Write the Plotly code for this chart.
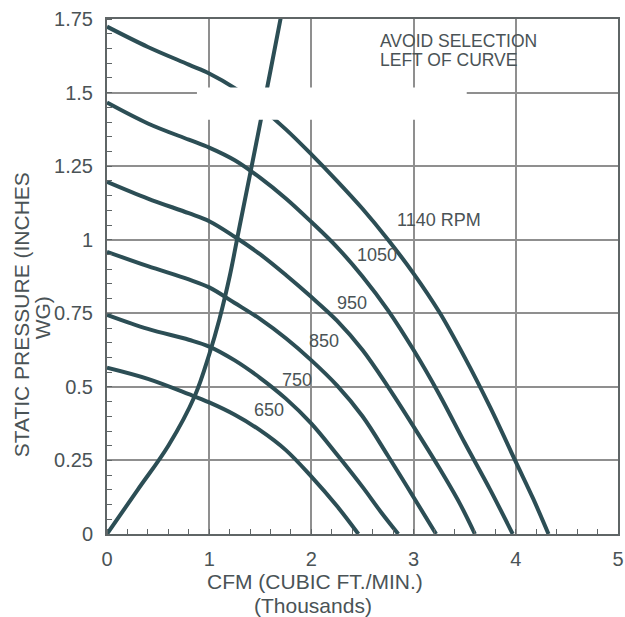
import plotly.graph_objects as go

# ---- data ----
rpm_labels = ["1140 RPM", "1050", "950", "850", "750", "650"]

cfm_1140 = [0, 0.4, 0.8, 1.0, 1.25, 1.5, 1.75, 2.0, 2.25, 2.5, 2.75, 3.0, 3.25, 3.5, 3.75, 4.0, 4.17, 4.32]
sp_1140 = [1.724, 1.655, 1.595, 1.565, 1.515, 1.45, 1.375, 1.29, 1.2, 1.105, 1.0, 0.885, 0.755, 0.6, 0.43, 0.245, 0.12, 0]

cfm_1050 = [0, 0.4, 0.8, 1.0, 1.25, 1.5, 1.75, 2.0, 2.25, 2.5, 2.75, 3.0, 3.25, 3.5, 3.75, 3.97]
sp_1050 = [1.466, 1.395, 1.34, 1.313, 1.27, 1.21, 1.14, 1.06, 0.975, 0.875, 0.76, 0.625, 0.475, 0.31, 0.15, 0]

cfm_950 = [0, 0.4, 0.8, 1.0, 1.25, 1.5, 1.75, 2.0, 2.25, 2.5, 2.75, 3.0, 3.25, 3.45, 3.60]
sp_950 = [1.197, 1.14, 1.09, 1.063, 1.01, 0.95, 0.88, 0.805, 0.725, 0.625, 0.5, 0.365, 0.225, 0.105, 0]

cfm_850 = [0, 0.4, 0.8, 1.0, 1.25, 1.5, 1.75, 2.0, 2.25, 2.5, 2.75, 3.0, 3.22]
sp_850 = [0.959, 0.91, 0.865, 0.838, 0.785, 0.73, 0.665, 0.59, 0.505, 0.4, 0.265, 0.125, 0]

cfm_750 = [0, 0.4, 0.8, 1.0, 1.25, 1.5, 1.75, 2.0, 2.25, 2.5, 2.68, 2.85]
sp_750 = [0.745, 0.697, 0.66, 0.637, 0.59, 0.53, 0.46, 0.375, 0.27, 0.16, 0.075, 0]

cfm_650 = [0, 0.4, 0.8, 1.0, 1.25, 1.5, 1.75, 2.0, 2.25, 2.46]
sp_650 = [0.565, 0.527, 0.475, 0.447, 0.405, 0.352, 0.285, 0.195, 0.095, 0]

sys_cfm = [0, 0.3, 0.6, 0.86, 1.0, 1.1, 1.2, 1.3, 1.45, 1.6, 1.72]
sys_sp = [0, 0.15, 0.3, 0.47, 0.61, 0.73, 0.875, 1.05, 1.31, 1.575, 1.79]

x_ticks = [0, 1, 2, 3, 4, 5]
y_ticks = [0, 0.25, 0.5, 0.75, 1, 1.25, 1.5, 1.75]
y_ticktext = ["0", "0.25", "0.5", "0.75", "1", "1.25", "1.5", "1.75"]

# label anchor positions (data units) for the rpm labels
label_x = [2.82, 2.43, 2.23, 1.96, 1.69, 1.42]
label_y = [1.068, 0.949, 0.786, 0.656, 0.524, 0.422]

# ---- styling ----
LINE = "#2c4e55"
TEXT = "#4a5356"
GRID = "#8f8f8f"
AXIS = "#5f6566"
FONT = "Liberation Sans, Arial, Helvetica, sans-serif"

fig = go.Figure()
curves = [(cfm_1140, sp_1140), (cfm_1050, sp_1050), (cfm_950, sp_950),
          (cfm_850, sp_850), (cfm_750, sp_750), (cfm_650, sp_650),
          (sys_cfm, sys_sp)]
for cx, cy in curves:
    fig.add_trace(go.Scatter(x=cx, y=cy, mode="lines",
                             line=dict(color=LINE, width=4, shape="spline", smoothing=1.0),
                             hoverinfo="skip", showlegend=False))

# white patch present in the reference
fig.add_shape(type="rect", xref="x", yref="y", x0=0.88, x1=3.52, y0=1.408, y1=1.517,
              fillcolor="white", line=dict(width=0), layer="above")

for t, lx, ly in zip(rpm_labels, label_x, label_y):
    fig.add_annotation(x=lx, y=ly, xref="x", yref="y", text=t, showarrow=False,
                       xanchor="left", yanchor="middle",
                       font=dict(family=FONT, size=18, color=TEXT))

fig.add_annotation(x=0.530, y=0.957, xref="paper", yref="paper", text="AVOID SELECTION",
                   showarrow=False, xanchor="left", yanchor="middle",
                   font=dict(family=FONT, size=17.5, color=TEXT))
fig.add_annotation(x=0.530, y=0.920, xref="paper", yref="paper", text="LEFT OF CURVE",
                   showarrow=False, xanchor="left", yanchor="middle",
                   font=dict(family=FONT, size=17.5, color=TEXT))

# axis titles
fig.add_annotation(x=0.407, y=-0.0932, xref="paper", yref="paper", text="CFM (CUBIC FT./MIN.)",
                   showarrow=False, xanchor="center", yanchor="middle",
                   font=dict(family=FONT, size=21, color=TEXT))
fig.add_annotation(x=0.403, y=-0.139, xref="paper", yref="paper", text="(Thousands)",
                   showarrow=False, xanchor="center", yanchor="middle",
                   font=dict(family=FONT, size=21, color=TEXT))
fig.add_annotation(x=-0.168, y=0.425, xref="paper", yref="paper", text="STATIC PRESSURE (INCHES",
                   showarrow=False, textangle=-90, xanchor="center", yanchor="middle",
                   font=dict(family=FONT, size=21, color=TEXT))
fig.add_annotation(x=-0.127, y=0.419, xref="paper", yref="paper", text="WG)",
                   showarrow=False, textangle=-90, xanchor="center", yanchor="middle",
                   font=dict(family=FONT, size=21, color=TEXT))

fig.update_xaxes(range=[0, 5], tickvals=x_ticks, ticks="", showgrid=True, gridcolor=GRID,
                 gridwidth=1.5, zeroline=False, showline=True, linecolor=AXIS, linewidth=2,
                 mirror=True, ticklabelstandoff=6, automargin=False, ticklabeloverflow="allow",
                 tickfont=dict(family=FONT, size=20, color=TEXT),
                 minor=dict(ticks="inside", dtick=0.2, tick0=0, ticklen=5, tickcolor=AXIS,
                            tickwidth=1, showgrid=False))
fig.update_yaxes(range=[0, 1.75], tickvals=y_ticks, ticktext=y_ticktext, ticks="",
                 showgrid=True, gridcolor=GRID, gridwidth=1.5, zeroline=False,
                 showline=True, linecolor=AXIS, linewidth=2, mirror=True,
                 ticklabelstandoff=8, automargin=False, ticklabeloverflow="allow",
                 tickfont=dict(family=FONT, size=20, color=TEXT),
                 minor=dict(ticks="inside", dtick=0.05, tick0=0, ticklen=5, tickcolor=AXIS,
                            tickwidth=1, showgrid=False))

fig.update_layout(width=625, height=617, margin=dict(l=107, r=7, t=19, b=83),
                  plot_bgcolor="white", paper_bgcolor="white", showlegend=False)

# remove the default page margin so the figure fills the window exactly
fig.write_html("out.html",
               config={"displayModeBar": False},
               post_script="document.body.style.margin='0';"
                           "document.body.style.overflow='hidden';"
                           "document.documentElement.style.overflow='hidden';")
